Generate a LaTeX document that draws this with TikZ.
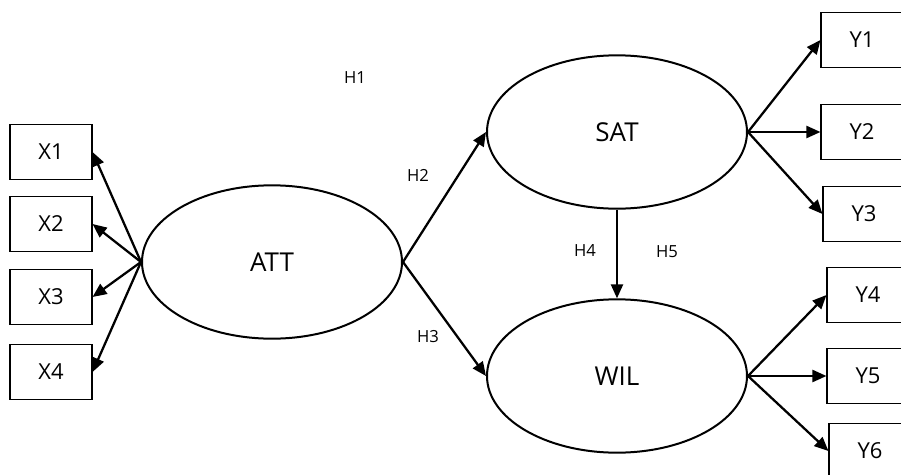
\documentclass[tikz,border=0pt]{standalone}
\usepackage{fontspec}
\setmainfont{Open Sans}
\usepackage{tikz}
\usetikzlibrary{arrows.meta, shapes.geometric}

\begin{document}
\begin{tikzpicture}
				[x=0.75pt, y=-0.75pt,
				item/.style={draw, line width=0.8pt, minimum width=61.5pt, minimum height=41pt, font=\fontsize{16.5}{20}\selectfont},
				latent/.style={draw, ellipse, line width=1.5pt, minimum width=195pt, minimum height=115pt, font=\fontsize{19.5}{24}\selectfont},
				hyp/.style={font=\fontsize{12.5}{15}\selectfont},
				path/.style={line width=1.7pt, -{Triangle[length=10.5pt, width=9pt]}}]
				\clip (0,0) rectangle (901,475);
				% latent variables
				\node[latent] (att) at (272,262) {ATT};
				\node[latent] (sat) at (617,132) {SAT};
				\node[latent] (wil) at (617,376) {WIL};
				% indicators
				\node[item] (x1) at (51,152) {X1};
				\node[item] (x2) at (51,224) {X2};
				\node[item] (x3) at (51,297) {X3};
				\node[item] (x4) at (51,372) {X4};
				\node[item] (y1) at (862,40) {Y1};
				\node[item] (y2) at (862,132) {Y2};
				\node[item] (y3) at (864,214) {Y3};
				\node[item] (y4) at (868,295) {Y4};
				\node[item] (y5) at (868,376) {Y5};
				\node[item] (y6) at (870,451) {Y6};
				% hypotheses
				\node[hyp] (h1) at (355,78) {H1};
				\node[hyp] (h2) at (418,175) {H2};
				\node[hyp] (h3) at (428,337) {H3};
				\node[hyp] (h4) at (585,251) {H4};
				\node[hyp] (h5) at (667,252) {H5};
				% loadings
				\foreach \x in {x1,x2,x3,x4}
					\draw[path] (att.west) -- (\x.east);
				\foreach \y in {y1,y2,y3}
					\draw[path] (sat.east) -- (\y.west);
				\foreach \y in {y4,y5,y6}
					\draw[path] (wil.east) -- (\y.west);
				% structural paths
				\draw[path] (att.east) -- (sat.west);
				\draw[path] (att.east) -- (wil.west);
				\draw[path] (sat.south) -- (wil.north);
\end{tikzpicture}
\end{document}
